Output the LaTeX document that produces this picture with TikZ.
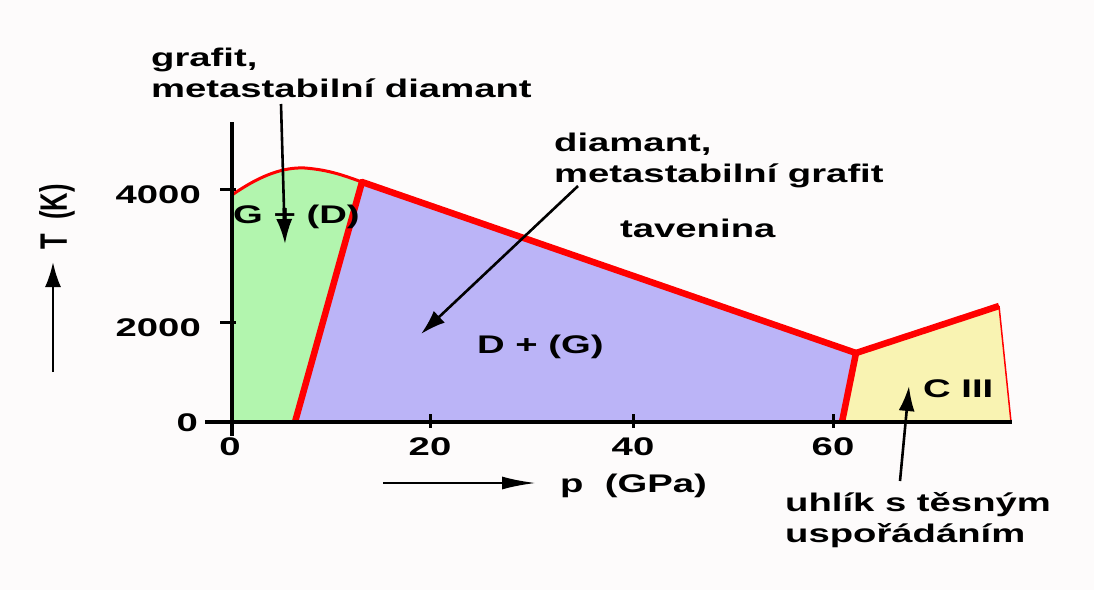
\documentclass[tikz,border=0pt]{standalone}
\usepackage{graphicx}
\usepackage{fontspec}
\setmainfont{Liberation Sans}[FakeStretch=1.5]
\newfontfamily\plainsans{Liberation Sans}
\usetikzlibrary{arrows.meta}

\definecolor{paper}{RGB}{253,251,251}
\definecolor{grafitgreen}{RGB}{178,245,174}
\definecolor{diamantblue}{RGB}{187,180,247}
\definecolor{ciiiyellow}{RGB}{249,243,178}
\definecolor{phasered}{RGB}{255,0,0}

\tikzset{
	lbl/.style={font=\bfseries\fontsize{25.5}{31}\selectfont, inner sep=0pt},
	axisline/.style={line width=4pt},
	tickline/.style={line width=3pt},
	boundary/.style={draw=phasered, line width=6.5pt, line join=round},
	pointer/.style={line width=2.6pt, -{Latex[length=25pt,width=16pt]}},
}

\begin{document}
\begin{tikzpicture}[x=1pt, y=-1pt]
	
	% Frame
	\fill[paper] (0,0) rectangle (1094,590);
	\useasboundingbox (0,0) rectangle (1094,590);
	
	% Points of the phase diagram
	\coordinate (O) at (232,422);
	\coordinate (Gtop) at (232,195);
	\coordinate (GD0) at (295,422);
	\coordinate (T1) at (362,182);
	\coordinate (T2) at (856,353);
	\coordinate (DC0) at (842,422);
	\coordinate (Cr) at (999,306);
	\coordinate (Cr0) at (1011,422);
	
	% Fields
	\fill[grafitgreen] (O) -- (Gtop) .. controls (262,174) and (285,167) .. (305,168)
		.. controls (330,170) and (345,176) .. (T1) -- (GD0) -- cycle;
	\fill[diamantblue] (GD0) -- (T1) -- (T2) -- (DC0) -- cycle;
	\fill[ciiiyellow] (DC0) -- (T2) -- (Cr) -- (Cr0) -- cycle;
	
	% Phase boundaries
	\draw[phasered, line width=3pt] (Gtop) .. controls (262,174) and (285,167) .. (305,168)
		.. controls (330,170) and (345,176) .. (T1);
	\draw[boundary] (GD0) -- (T1) -- (T2) -- (DC0);
	\draw[boundary] (T2) -- (Cr);
	\draw[phasered, line width=1.5pt] (Cr) -- (Cr0);
	
	% Axes
	\draw[axisline] (205,422) -- (1012,422);
	\draw[axisline] (232,122) -- (232,436);
	
	% Ticks and numbers
	\foreach \x/\val in {430/20, 633/40, 833/60}{
		\draw[tickline] (\x,414) -- (\x,428);
		\node[lbl, anchor=base] at (\x,455) {\val};
	}
	\node[lbl, anchor=base] at (230,455) {0};
	\foreach \y/\val in {189/4000, 322/2000}{
		\draw[tickline] (220,\y) -- (236,\y);
		\node[lbl, anchor=base east] at (201,\y+14) {\val};
	}
	\node[lbl, anchor=base east] at (198,431) {0};
	
	% Axis names
	\node[lbl] (Tname) at (57,217) {\rotatebox{90}{\scalebox{1}[1.5]{\plainsans T~~(K)}}};
	\coordinate (Ttail) at (53,372);
	\coordinate (Ttip) at (53,262);
	\draw[pointer] (Ttail) -- (Ttip);
	
	\node[lbl, anchor=base west] (pname) at (560,492) {p~~(GPa)};
	\coordinate (ptail) at (383,483);
	\coordinate (ptip) at (536,483);
	\draw[line width=2.6pt, -{Latex[length=34pt,width=13pt]}] (ptail) -- (ptip);
	
	% Field labels
	\node[lbl, anchor=base west] (GD) at (233,223) {G + (D)};
	\node[lbl, anchor=base west] (DG) at (477,353) {D + (G)};
	\node[lbl, anchor=base west] (CIII) at (923,397) {C III};
	\node[lbl, anchor=base west] (melt) at (620,237) {tavenina};
	
	% Notes with arrows (base = last line)
	\node[lbl, align=left, anchor=base west] (grafitnote) at (151,97) {grafit,\\metastabilní diamant};
	\coordinate (gtail) at (281,104);
	\coordinate (gtip) at (285,244);
	\draw[pointer] (gtail) -- (gtip);
	
	\node[lbl, align=left, anchor=base west] (diamnote) at (554,182) {diamant,\\metastabilní grafit};
	\coordinate (dtail) at (578,186);
	\coordinate (dtip) at (421,334);
	\draw[pointer] (dtail) -- (dtip);
	
	\node[lbl, align=left, anchor=base west] (ciiinote) at (785,542) {uhlík s těsným\\uspořádáním};
	\coordinate (ctail) at (900,481);
	\coordinate (ctip) at (909,386);
	\draw[pointer] (ctail) -- (ctip);
	
\end{tikzpicture}
\end{document}
